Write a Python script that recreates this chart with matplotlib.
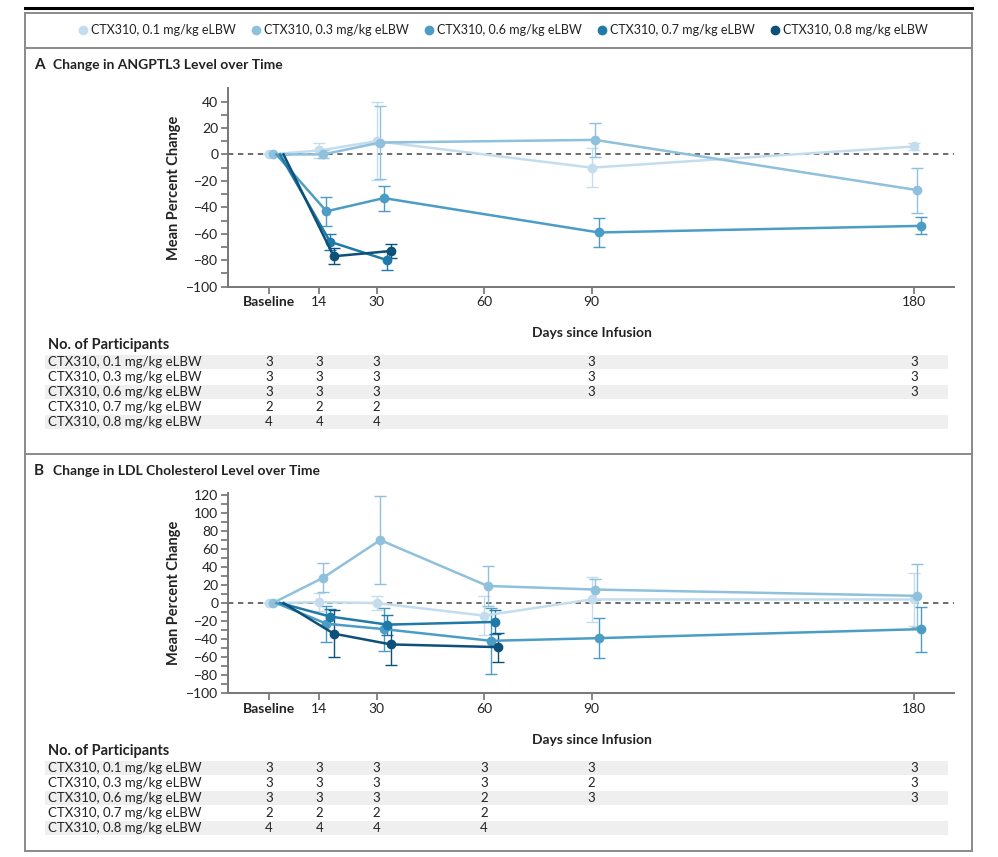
import matplotlib
matplotlib.use('Agg')
import matplotlib.pyplot as plt
from matplotlib.lines import Line2D
from matplotlib.patches import Rectangle
from matplotlib.transforms import blended_transform_factory

# ---------------- data ----------------
series_labels = ["CTX310, 0.1 mg/kg eLBW", "CTX310, 0.3 mg/kg eLBW",
                 "CTX310, 0.6 mg/kg eLBW", "CTX310, 0.7 mg/kg eLBW",
                 "CTX310, 0.8 mg/kg eLBW"]
series_colors = ['#c4ddee', '#8fc0dc', '#4c9dc5', '#1f79a9', '#0d5079']
dodge_days = [0, 1, 2, 3, 4]

tick_days = [0, 14, 30, 60, 90, 180]
tick_labels = ['Baseline', '14', '30', '60', '90', '180']

# Panel A: ANGPTL3
a_days_long = [0, 14, 30, 90, 180]
a_days_short = [0, 14, 30]
a_01_mean = [0, 3, 10, -10, 6]
a_01_err = [0, 5.5, 29.5, 15, 2.5]
a_03_mean = [0, 0, 9, 11, -27]
a_03_err = [0, 3, 27.5, 13, 17]
a_06_mean = [0, -43, -33, -59, -54]
a_06_err = [0, 11, 9.5, 11, 6.5]
a_07_mean = [0, -66, -80]
a_07_err = [0, 6, 7]
a_08_mean = [0, -77, -73]
a_08_err = [0, 6, 5]

# Panel B: LDL cholesterol
b_days_long = [0, 14, 30, 60, 90, 180]
b_days_short = [0, 14, 30, 60]
b_01_mean = [0, 1, 0, -14, 4, 4]
b_01_err = [0, 10, 8, 22, 25, 29]
b_03_mean = [0, 28, 70, 19, 15, 8]
b_03_err = [0, 16, 49, 22, 12, 35]
b_06_mean = [0, -23, -29, -42, -39, -29]
b_06_err = [0, 20, 24, 37, 22, 25]
b_07_mean = [0, -15, -24, -21]
b_07_err = [0, 8, 11, 13]
b_08_mean = [0, -34, -46, -49]
b_08_err = [0, 26, 23, 16]

# Number of participants
a_count_days = [0, 14, 30, 90, 180]
a_counts_01 = [3, 3, 3, 3, 3]
a_counts_03 = [3, 3, 3, 3, 3]
a_counts_06 = [3, 3, 3, 3, 3]
a_counts_07 = [2, 2, 2]
a_counts_08 = [4, 4, 4]

b_count_days = [0, 14, 30, 60, 90, 180]
b_counts_01 = [3, 3, 3, 3, 3, 3]
b_counts_03 = [3, 3, 3, 3, 2, 3]
b_counts_06 = [3, 3, 3, 2, 3, 3]
b_counts_07 = [2, 2, 2, 2]
b_counts_08 = [4, 4, 4, 4]

# ---------------- fonts ----------------
plt.rcParams['font.family'] = ['Lato', 'DejaVu Sans']
COND = ['Liberation Sans Narrow', 'Lato', 'DejaVu Sans']
TXT = '#222222'

W, H = 998, 857
fig = plt.figure(figsize=(W / 100, H / 100), dpi=100)
fig.patch.set_facecolor('white')


def rect(left, top, right, bottom):
    return [left / W, 1 - bottom / H, (right - left) / W, (bottom - top) / H]


overlay = fig.add_axes([0, 0, 1, 1], zorder=-5)
overlay.set_xlim(0, W)
overlay.set_ylim(H, 0)
overlay.axis('off')

# frame
FR = '#8a8a8a'
overlay.plot([25, 972], [8, 8], color='black', lw=2.2)
for yy in [13, 47.5, 454, 851]:
    overlay.plot([25, 972], [yy, yy], color=FR, lw=1.4)
for xx in [25, 972]:
    overlay.plot([xx, xx], [13, 851], color=FR, lw=1.4)

# legend
handles = [Line2D([], [], ls='none', marker='o', ms=6, color=c, mec=c)
           for c in series_colors]
fig.legend(handles, series_labels, loc='center',
           bbox_to_anchor=(503 / W, 1 - 30 / H), ncol=5, frameon=False,
           handletextpad=0.2, columnspacing=1.25, handlelength=0.8,
           prop={'family': ['Lato', 'DejaVu Sans'], 'size': 9},
           labelcolor=TXT)


def make_panel(ax, letter, title, title_y, ylim, yticks, series, count_days,
               counts, days_y, table_top):
    for k, ((days, mean, err), c, off) in enumerate(
            zip(series, series_colors, dodge_days)):
        xs = [d + off for d in days]
        # the darker series show no marker at baseline in the original
        mevery = slice(0, None) if k < 2 else slice(1, None)
        ax.errorbar(xs, mean, yerr=err, fmt='-o', color=c, ms=6, lw=1.8,
                    mec=c, elinewidth=1.0, capsize=4, capthick=1.0,
                    markevery=mevery, zorder=3)
    ax.axhline(0, color='#444444', lw=1.1, ls=(0, (3.5, 3)), zorder=1)
    ax.set_xlim(-11.5, 191.2)
    ax.set_ylim(*ylim)
    ax.set_yticks(yticks)
    ax.set_yticklabels([('\u2212' + str(-v)) if v < 0 else str(v) for v in yticks])
    ax.set_yticks(list(range(yticks[0], yticks[-1] + 1, 10)), minor=True)
    ax.set_xticks(tick_days)
    ax.set_xticklabels(tick_labels)
    for sp in ['top', 'right']:
        ax.spines[sp].set_visible(False)
    for sp in ['left', 'bottom']:
        ax.spines[sp].set_color('#777777')
        ax.spines[sp].set_linewidth(1.4)
    ax.tick_params(axis='both', which='major', length=5, width=1.1,
                   color='#666666', labelcolor=TXT, labelsize=10, pad=2)
    ax.tick_params(axis='y', which='minor', length=5, width=1.1, color='#666666')
    for lab in ax.get_xticklabels() + ax.get_yticklabels():
        lab.set_family(COND)
    ax.get_xticklabels()[0].set_fontweight('bold')
    ax.set_ylabel('Mean Percent Change', fontsize=10.5, fontweight='bold',
                  color=TXT, labelpad=4)
    ax.patch.set_alpha(0)

    # title
    overlay.text(34, title_y, letter, fontsize=11, fontweight='bold',
                 color=TXT, va='center', ha='left')
    overlay.text(53, title_y, title, fontsize=10, fontweight='bold',
                 color=TXT, va='center', ha='left')
    overlay.text(592, days_y, 'Days since Infusion', fontsize=10,
                 fontweight='bold', color=TXT, va='center', ha='center')

    # participants table
    overlay.text(48, table_top, 'No. of Participants', fontsize=10.5,
                 fontweight='bold', color=TXT, va='center', ha='left',
                 family=COND)
    tr = blended_transform_factory(ax.transData, overlay.transData)
    for i, (lab, cnts) in enumerate(zip(series_labels, counts)):
        yy = table_top + 17 + 15 * i
        if i % 2 == 0:
            overlay.add_patch(Rectangle((45, yy - 7), 903, 14,
                                        color='#efefef', lw=0, zorder=0))
        overlay.text(48, yy, lab, fontsize=9.5, color=TXT, va='center',
                     ha='left', family=COND)
        for d, n in zip(count_days, cnts):
            overlay.text(d, yy, str(n), fontsize=9.5, color=TXT, va='center',
                         ha='center', family=COND, transform=tr)


axA = fig.add_axes(rect(228, 88.3, 954, 286.7))
make_panel(axA, 'A', 'Change in ANGPTL3 Level over Time', 65,
           (-100, 50), list(range(-100, 41, 20)),
           [(a_days_long, a_01_mean, a_01_err),
            (a_days_long, a_03_mean, a_03_err),
            (a_days_long, a_06_mean, a_06_err),
            (a_days_short, a_07_mean, a_07_err),
            (a_days_short, a_08_mean, a_08_err)],
           a_count_days,
           [a_counts_01, a_counts_03, a_counts_06, a_counts_07, a_counts_08],
           333, 345)

axB = fig.add_axes(rect(228, 493.3, 954, 693))
make_panel(axB, 'B', 'Change in LDL Cholesterol Level over Time', 471,
           (-100, 122), list(range(-100, 121, 20)),
           [(b_days_long, b_01_mean, b_01_err),
            (b_days_long, b_03_mean, b_03_err),
            (b_days_long, b_06_mean, b_06_err),
            (b_days_short, b_07_mean, b_07_err),
            (b_days_short, b_08_mean, b_08_err)],
           b_count_days,
           [b_counts_01, b_counts_03, b_counts_06, b_counts_07, b_counts_08],
           740, 751)

fig.savefig('out.png', dpi=100, facecolor='white')
